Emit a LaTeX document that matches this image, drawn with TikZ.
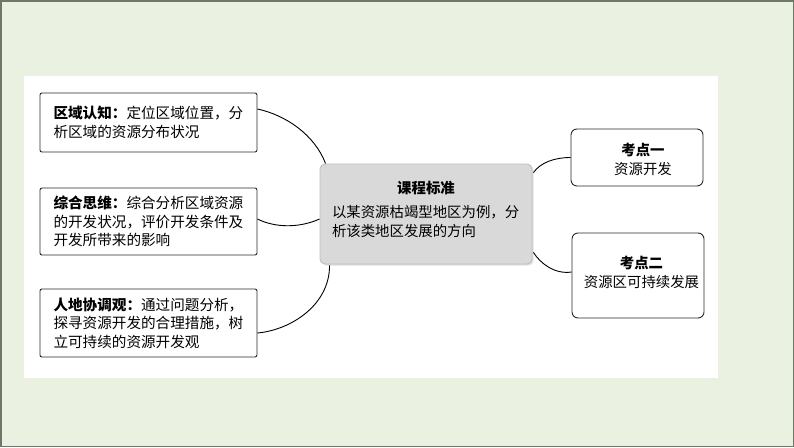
\documentclass[tikz,border=0pt]{standalone}
\usepackage{fontspec}
\setmainfont{Noto Sans CJK SC}
\usetikzlibrary{calc,shadows}
\definecolor{bggreen}{RGB}{235,241,225}
\definecolor{framegray}{RGB}{110,120,105}
\definecolor{boxline}{RGB}{40,40,40}
\definecolor{centerfill}{RGB}{217,217,217}
\definecolor{centerline}{RGB}{190,190,190}
\tikzset{
  leftbox/.style={draw=boxline, line width=0.9pt, rounded corners=2pt, fill=white,
    minimum width=217pt, text width=190pt, inner xsep=13.5pt, align=left,
    font=\fontsize{14.6}{18.5}\selectfont},
  rightbox/.style={draw=boxline, line width=0.9pt, rounded corners=6pt, fill=white,
    minimum width=132pt},
  boxtext/.style={align=center, font=\fontsize{14.4}{19}\selectfont, inner sep=0pt},
  centerbox/.style={draw=centerline, line width=0.9pt, fill=centerfill, rounded corners=5pt,
    minimum width=212pt, minimum height=100pt,
    drop shadow={shadow xshift=1.5pt, shadow yshift=-1.5pt, opacity=0.25}},
  link/.style={draw=black, line width=0.9pt}
}
\begin{document}
\begin{tikzpicture}[x=1pt,y=-1pt]
\useasboundingbox (0,0) rectangle (794,447);
\fill[bggreen] (0,0) rectangle (794,447);
\draw[framegray, line width=1.5pt] (0.75,0.75) rectangle (793.25,446.25);
\fill[white] (24,76) rectangle (718,378);

\node[leftbox, minimum height=59pt] (b1) at (148.5,122.5)
  {{\bfseries 区域认知：}定位区域位置，分\\析区域的资源分布状况};
\node[leftbox, minimum height=67pt] (b2) at (148.5,221.5)
  {{\bfseries 综合思维：}综合分析区域资源\\的开发状况，评价开发条件及\\开发所带来的影响};
\node[leftbox, minimum height=68pt] (b3) at (148.5,323)
  {{\bfseries 人地协调观：}通过问题分析，\\探寻资源开发的合理措施，树\\立可持续的资源开发观};

\node[centerbox, label={[boxtext, align=left, yshift=4.5pt]center:{\makebox[188pt][c]{\bfseries 课程标准}\\[5pt]以某资源枯竭型地区为例，分\\析该类地区发展的方向}}] (c) at (426,214) {};

\node[rightbox, minimum height=57pt, label={[boxtext, xshift=6pt, yshift=-1.5pt]center:{{\bfseries 考点一}\\资源开发}}] (r1) at (637,157.5) {};
\node[rightbox, minimum height=85pt, label={[boxtext, xshift=3.5pt, yshift=3.5pt]center:{{\bfseries 考点二}\\资源区可持续发展}}] (r2) at (638,275.5) {};

\draw[link] ($(b1.east)+(0,-13.5)$) .. controls ++(28,6) and ($(c.north west)+(-5,-29)$) .. ($(c.north west)+(6,0)$);
\draw[link] ($(b2.east)+(0,-2.5)$) .. controls ++(18,9) and ($(c.west)+(-20,14)$) .. ($(c.west)+(0,5)$);
\draw[link] ($(b3.east)+(0,10)$) .. controls ++(33,-3) and ($(c.south west)+(10,41)$) .. ($(c.south west)+(10,1)$);
\draw[link] ($(c.north east)+(1,9)$) .. controls ++(7,-10) and ($(r1.west)+(-16,0)$) .. (r1.west);
\draw[link] ($(c.south east)+(1,-12)$) .. controls ++(7,11) and ($(r2.west)+(-17,-1)$) .. ($(r2.west)+(0,-3.5)$);
\end{tikzpicture}
\end{document}
